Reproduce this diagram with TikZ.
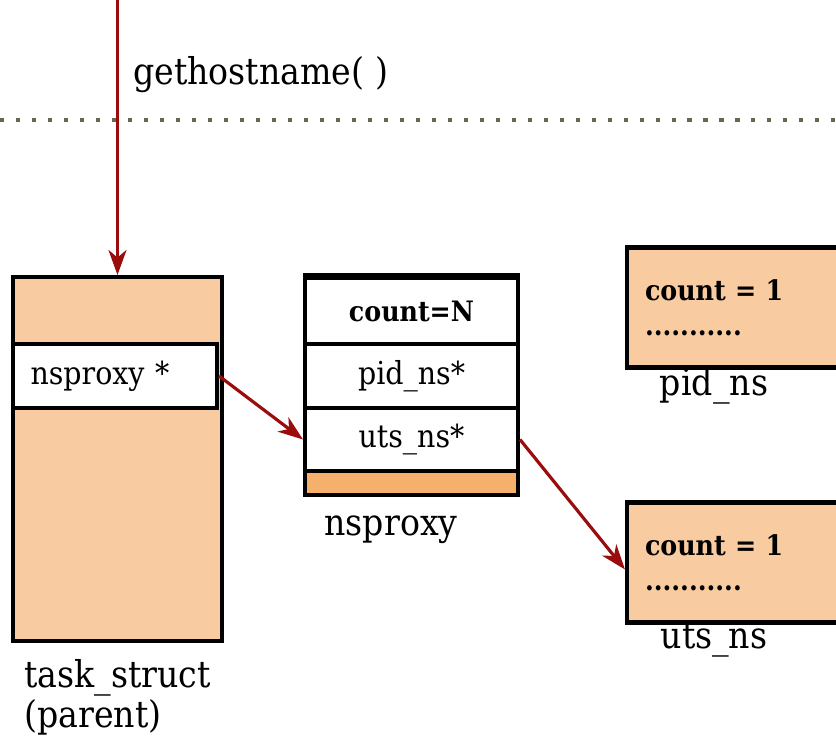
\documentclass[tikz,border=0pt]{standalone}
\usepackage{fontspec}
\setmainfont{DejaVu Serif Condensed}
\usetikzlibrary{arrows.meta}
\definecolor{peach}{RGB}{248,203,160}
\definecolor{darkorange}{RGB}{245,176,107}
\definecolor{ptrred}{RGB}{155,12,12}
\definecolor{dotgrey}{RGB}{110,100,85}
\begin{document}
\begin{tikzpicture}[x=0.02cm,y=-0.02cm,
    box/.style={draw=black,line width=2.3pt,fill=peach,inner sep=0pt},
    cell/.style={draw=black,line width=2.3pt,fill=white,inner sep=0pt,minimum width=4.26cm,
                 font=\fontsize{18}{21}\selectfont},
    field/.style={box,text width=3.94cm,inner xsep=0.36cm,align=left,
                  minimum width=4.66cm,minimum height=2.4cm,
                  font=\fontsize{16}{23}\selectfont\bfseries},
    lbl/.style={font=\fontsize{21}{24}\selectfont,inner sep=0pt},
    ptr/.style={draw=ptrred,line width=1.8pt,-{Stealth[length=0.5cm,width=0.36cm,inset=0.15cm]}}]
                \useasboundingbox (0,0) rectangle (836,741);

                % Drawing system call boundary
                \coordinate (callin) at (117.5,0);
                \coordinate (sepl) at (0,120);
                \coordinate (sepr) at (836,120);
                \draw [dotgrey,line width=2.3pt,dash pattern=on 2.3pt off 6.8pt] (sepl) -- (sepr);%
                \node [lbl,anchor=west] (call) at (133,75) {gethostname( )};%

                % Drawing task_struct
                \node [box,minimum width=4.18cm,minimum height=7.28cm] (task) at (117.5,459) {};%
                \node [box,fill=white,minimum width=4.08cm,minimum height=1.28cm,text width=3.38cm,
                       inner xsep=0.35cm,align=left,font=\fontsize{18}{21}\selectfont] (nsptr) at (115,376) {nsproxy *};%
                \node [lbl,align=left,anchor=north west] (tasklbl) at (24,659) {task\_struct\\[-1pt](parent)};%

                % Drawing nsproxy
                \node [cell,minimum height=1.32cm,font=\fontsize{16}{20}\selectfont\bfseries] (count) at (411.5,311) {count=N};%
                \node [cell,minimum height=1.28cm] (pid) at (411.5,376) {pid\_ns*};%
                \node [cell,minimum height=1.26cm] (uts) at (411.5,439.5) {uts\_ns*};%
                \node [cell,fill=darkorange,minimum height=0.48cm] (pad) at (411.5,483) {};%
                \draw [line width=3.2pt] (count.north west) -- (count.north east);%
                \node [lbl] (nsplbl) at (391,530) {nsproxy};%

                % Drawing pid_ns and uts_ns
                \node [field] (pidns) at (743.5,307.5) {count = 1\\[-3pt]...........};%
                \node [lbl] (pidlbl) at (714,386) {pid\_ns};%
                \node [field] (utsns) at (743.5,562.5) {count = 1\\[-3pt]...........};%
                \node [lbl] (utslbl) at (714,640) {uts\_ns};%

                % Drawing pointers
                \draw [ptr] (callin) -- (task.north);%
                \draw [ptr] (nsptr.east) -- (uts.west);%
                \draw [ptr] (uts.east) -- ([yshift=-0.14cm]utsns.west);%
\end{tikzpicture}
\end{document}
